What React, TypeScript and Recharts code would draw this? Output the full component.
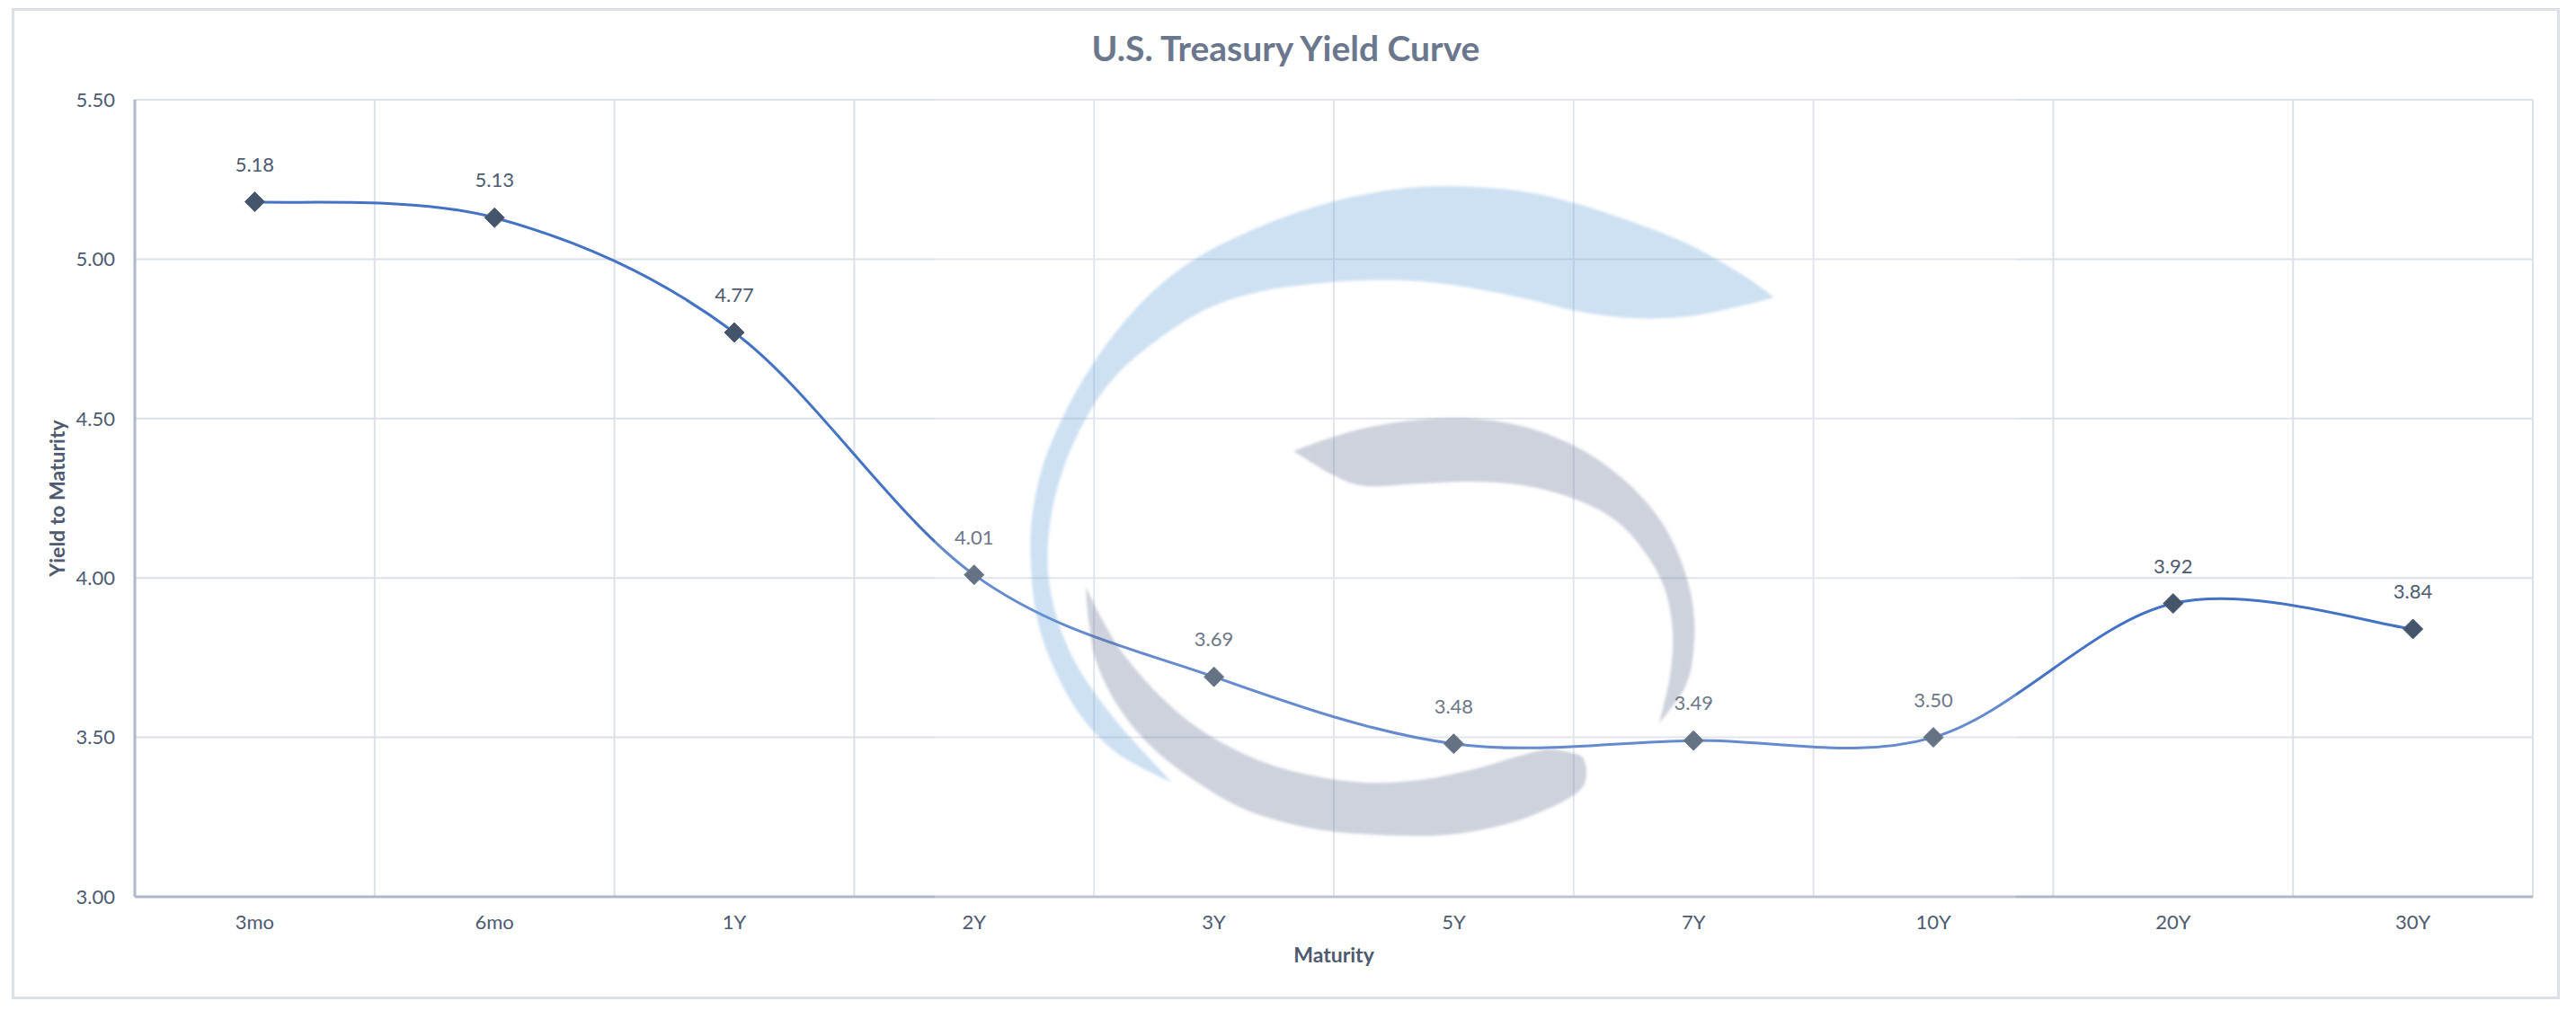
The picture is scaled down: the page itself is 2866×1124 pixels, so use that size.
import React from 'react';
import { CartesianGrid, LabelList, Line, LineChart, XAxis, YAxis } from 'recharts';

const maturities = ['3mo', '6mo', '1Y', '2Y', '3Y', '5Y', '7Y', '10Y', '20Y', '30Y'];
const yields = [5.18, 5.13, 4.77, 4.01, 3.69, 3.48, 3.49, 3.5, 3.92, 3.84];
const yTicks = [3.0, 3.5, 4.0, 4.5, 5.0, 5.5];

const data = maturities.map((m, i) => ({ maturity: m, yield: yields[i] }));

const FONT = "Lato, 'Noto Sans', sans-serif";
const W = 2829;
const H = 1097;

// Catmull-Rom as cubic bezier pieces (close to Excel's smoothed line)
const catmull = (pts: number[][]) => {
  let d = '';
  for (let i = 0; i < pts.length - 1; i++) {
    const p0 = pts[Math.max(i - 1, 0)];
    const p1 = pts[i];
    const p2 = pts[i + 1];
    const p3 = pts[Math.min(i + 2, pts.length - 1)];
    d += `C${p1[0] + (p2[0] - p0[0]) / 6},${p1[1] + (p2[1] - p0[1]) / 6} ${p2[0] - (p3[0] - p1[0]) / 6},${p2[1] - (p3[1] - p1[1]) / 6} ${p2[0]},${p2[1]}`;
  }
  return d;
};

// same smoothing as a d3 curve factory for the Line
const excelSmooth = (context: any) => {
  let pts: number[][] = [];
  return {
    areaStart() {},
    areaEnd() {},
    lineStart() {
      pts = [];
    },
    lineEnd() {
      const n = pts.length;
      if (!n) return;
      context.moveTo(pts[0][0], pts[0][1]);
      for (let i = 0; i < n - 1; i++) {
        const p0 = pts[Math.max(i - 1, 0)];
        const p1 = pts[i];
        const p2 = pts[i + 1];
        const p3 = pts[Math.min(i + 2, n - 1)];
        context.bezierCurveTo(
          p1[0] + (p2[0] - p0[0]) / 6,
          p1[1] + (p2[1] - p0[1]) / 6,
          p2[0] - (p3[0] - p1[0]) / 6,
          p2[1] - (p3[1] - p1[1]) / 6,
          p2[0],
          p2[1],
        );
      }
    },
    point(x: number, y: number) {
      pts.push([+x, +y]);
    },
  };
};

const Diamond = (props: any) => {
  const { cx, cy } = props;
  if (cx == null || cy == null) return null;
  const r = 11;
  return (
    <path
      d={`M${cx},${cy - r}L${cx + r},${cy}L${cx},${cy + r}L${cx - r},${cy}Z`}
      fill='#44546A'
      stroke='#4A5A78'
      strokeWidth={1}
    />
  );
};

// watermark logo outlines (page pixels), decoration only
const blueOuter = [[1974, 331], [1939, 306], [1879, 272], [1819, 248], [1759, 228], [1700, 214], [1640, 208], [1580, 208], [1520, 216], [1460, 231], [1400, 253], [1340, 282], [1292, 316], [1250, 359], [1214, 408], [1184, 461], [1160, 519], [1148, 577], [1147, 631], [1154, 689], [1172, 742], [1202, 796], [1244, 839], [1304, 871]];
const blueInner = [[1304, 871], [1244, 805], [1202, 747], [1178, 694], [1166, 636], [1169, 577], [1184, 519], [1208, 466], [1238, 422], [1280, 384], [1340, 345], [1400, 325], [1460, 316], [1520, 312], [1580, 313], [1640, 321], [1700, 333], [1759, 347], [1819, 354], [1879, 352], [1939, 340], [1974, 331]];
const greyTopOuter = [[1439, 502], [1472, 490], [1520, 476], [1580, 467], [1640, 466], [1700, 476], [1759, 500], [1807, 534], [1843, 573], [1867, 616], [1882, 665], [1885, 713], [1876, 762], [1846, 805]];
const greyTopInner = [[1846, 805], [1858, 752], [1861, 703], [1852, 655], [1831, 616], [1801, 582], [1759, 558], [1700, 541], [1640, 536], [1580, 538], [1520, 541], [1484, 529], [1439, 502]];
const greyLowOuter = [[1208, 653], [1211, 689], [1220, 737], [1244, 786], [1280, 830], [1328, 868], [1388, 902], [1460, 922], [1532, 929], [1610, 929], [1676, 917], [1729, 897], [1759, 878], [1765, 859], [1762, 844]];
const greyLowInner = [[1762, 844], [1753, 839], [1723, 834], [1688, 842], [1640, 856], [1580, 868], [1520, 871], [1460, 863], [1400, 846], [1340, 815], [1292, 776], [1250, 728], [1226, 689], [1208, 653]];

const crescent = (outer: number[][], inner: number[][]) =>
  `M${outer[0][0]},${outer[0][1]}${catmull(outer)}${catmull(inner)}Z`;

export default function App() {
  return (
    <div
      style={{
        position: 'relative',
        width: W,
        height: H,
        border: '3px solid #DDE1E7',
        marginLeft: 5,
        marginTop: 1,
        fontFamily: FONT,
      }}>
      <svg width={W} height={H} style={{ position: 'absolute', left: 0, top: 0 }}>
        <text
          x={W / 2}
          y={56}
          textAnchor='middle'
          fontFamily={FONT}
          fontWeight='bold'
          fontSize={39}
          fill='#6B778C'>
          U.S. Treasury Yield Curve
        </text>
      </svg>
      <LineChart
        width={W}
        height={H}
        data={data}
        margin={{ top: 99, right: 27, bottom: 0, left: 20 }}
        style={{ position: 'relative' }}>
        <CartesianGrid
          stroke='#DCE1E8'
          strokeWidth={2}
          verticalCoordinatesGenerator={({ offset }: any) =>
            maturities.map((_, i) => offset.left + ((i + 1) * offset.width) / maturities.length)
          }
        />
        <XAxis
          dataKey='maturity'
          scale='band'
          height={111}
          tickLine={false}
          tickMargin={14}
          axisLine={{ stroke: '#AEB8C9', strokeWidth: 3 }}
          tick={{ fill: '#4D5A70', fontSize: 22, fontFamily: FONT }}
          label={{
            value: 'Maturity',
            position: 'insideBottom',
            offset: 38,
            fill: '#4D5A70',
            fontSize: 23,
            fontWeight: 'bold',
            fontFamily: FONT,
          }}
        />
        <YAxis
          domain={[3, 5.5]}
          ticks={yTicks}
          width={114}
          tickLine={false}
          tickMargin={16}
          tickFormatter={(v: number) => v.toFixed(2)}
          axisLine={{ stroke: '#AEB8C9', strokeWidth: 3 }}
          tick={{ fill: '#4D5A70', fontSize: 22, fontFamily: FONT }}
          label={{
            value: 'Yield to Maturity',
            angle: -90,
            position: 'insideLeft',
            offset: 28,
            fill: '#4D5A70',
            fontSize: 23,
            fontWeight: 'bold',
            fontFamily: FONT,
            style: { textAnchor: 'middle' },
          }}
        />
        <Line
          dataKey='yield'
          type={excelSmooth as any}
          stroke='#4472C4'
          strokeWidth={3}
          dot={<Diamond />}
          activeDot={false}
          isAnimationActive={false}>
          <LabelList
            dataKey='yield'
            position='top'
            offset={34}
            formatter={(v: any) => Number(v).toFixed(2)}
            fill='#4D5A70'
            fontSize={22}
            fontFamily={FONT}
          />
        </Line>
      </LineChart>
      {/* semi-transparent logo laid over the plot, like the picture in the original */}
      <svg
        width={W}
        height={H}
        style={{ position: 'absolute', left: 0, top: 0, pointerEvents: 'none' }}>
        <defs>
          <filter id='soft' x='-5%' y='-5%' width='110%' height='110%'>
            <feGaussianBlur stdDeviation='1.8' />
          </filter>
        </defs>
        <g transform='translate(-16,-12)'>
          <rect x={1040} y={105} width={1203} height={895} fill='#FFFFFF' opacity={0.18} />
          <g filter='url(#soft)'>
            <path d={crescent(blueOuter, blueInner)} fill='#5B9BD5' opacity={0.3} />
            <path d={crescent(greyTopOuter, greyTopInner)} fill='#5A6B8A' opacity={0.3} />
            <path d={crescent(greyLowOuter, greyLowInner)} fill='#5A6B8A' opacity={0.3} />
          </g>
        </g>
      </svg>
    </div>
  );
}
